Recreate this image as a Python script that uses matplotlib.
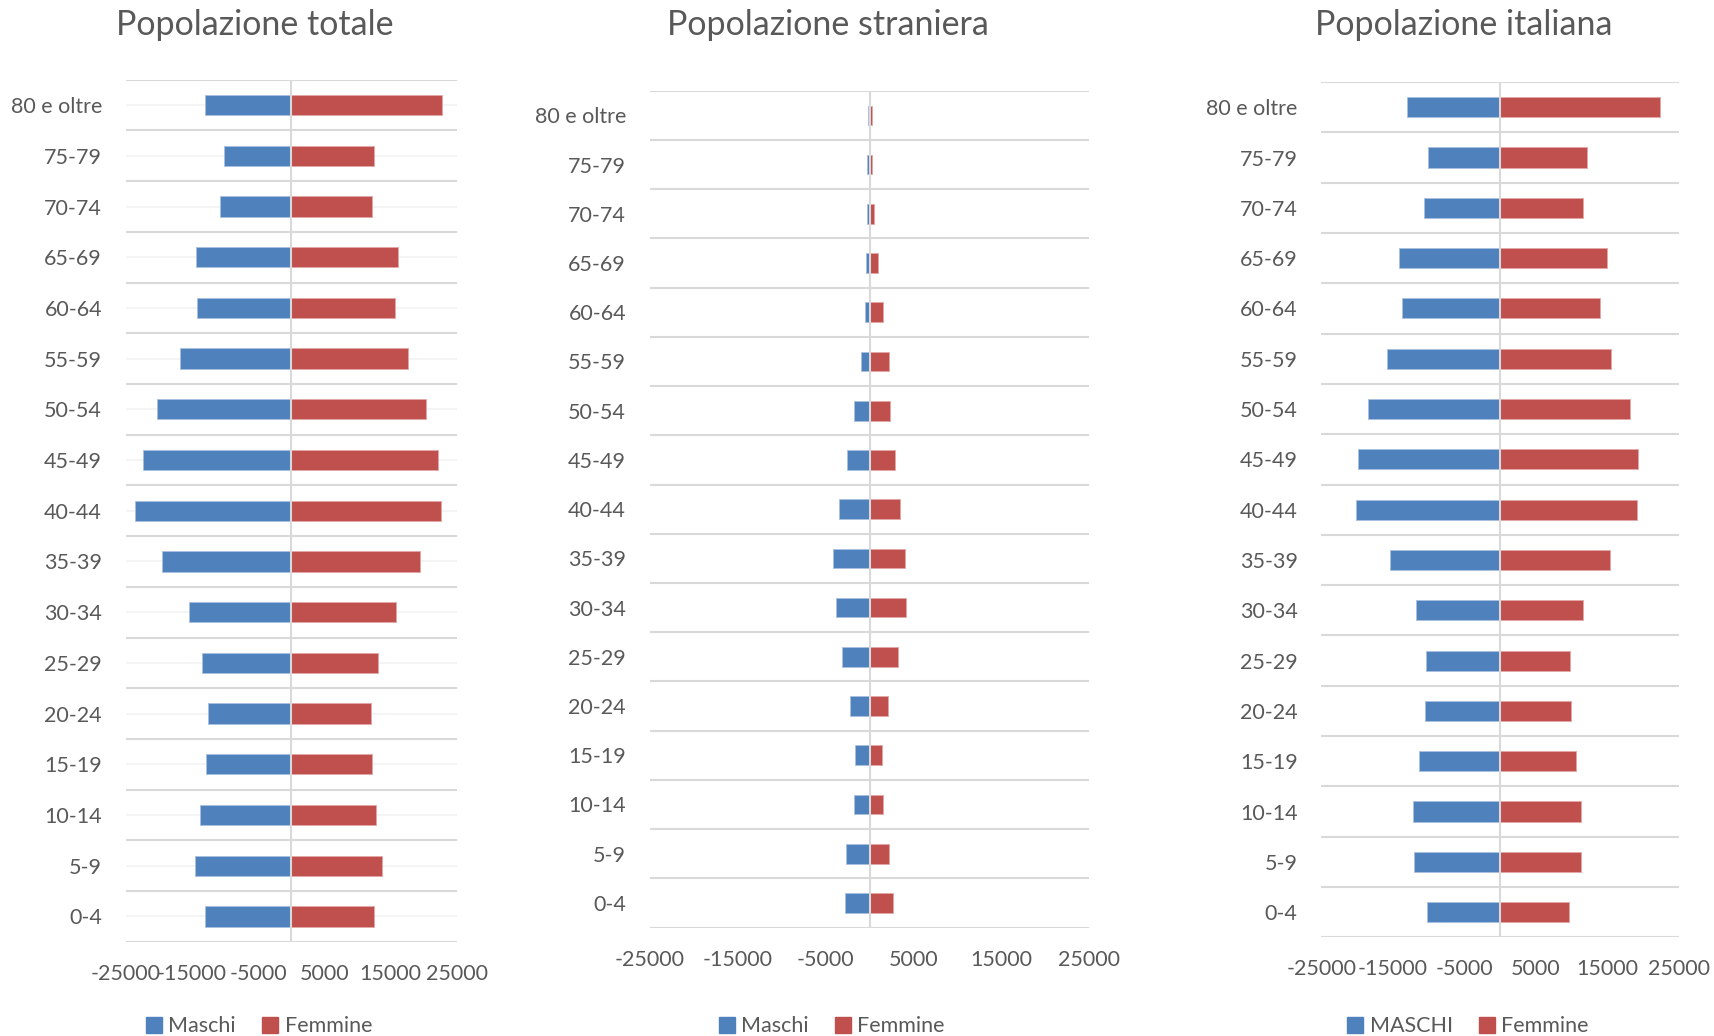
import numpy as np
import matplotlib
matplotlib.use('Agg')
import matplotlib.pyplot as plt
from matplotlib.patches import Rectangle

# classi di età, dal basso verso l'alto
categorie = ['0-4', '5-9', '10-14', '15-19', '20-24', '25-29', '30-34', '35-39',
             '40-44', '45-49', '50-54', '55-59', '60-64', '65-69', '70-74', '75-79',
             '80 e oltre']

totale_maschi = [13000, 14560, 13860, 12950, 12650, 13450, 15510, 19480,
                 23590, 22440, 20280, 16820, 14260, 14460, 10790, 10240, 13100]
totale_femmine = [12400, 13650, 12750, 12100, 11950, 13050, 15760, 19430,
                  22540, 22190, 20380, 17620, 15610, 16060, 12150, 12500, 22740]

stranieri_maschi = [2800, 2650, 1780, 1670, 2270, 3150, 3830, 4170,
                    3490, 2580, 1740, 985, 530, 380, 265, 230, 190]
stranieri_femmine = [2690, 2270, 1520, 1440, 2120, 3260, 4150, 4050,
                     3450, 2920, 2310, 2160, 1520, 985, 490, 340, 230]

italiani_maschi = [10220, 11980, 12100, 11270, 10430, 10330, 11680, 15320,
                   20110, 19920, 18530, 15870, 13740, 14160, 10650, 10080, 13070]
italiani_femmine = [9650, 11310, 11310, 10660, 9870, 9820, 11640, 15410,
                    19130, 19270, 18110, 15550, 14020, 15020, 11640, 12120, 22430]

tick_valori = [-25000, -15000, -5000, 5000, 15000, 25000]
tick_etichette = ['-25000', '-15000', '-5000', '5000', '15000', '25000']

BLU = '#4F81BD'
ROSSO = '#C0504D'
GRIGIO = '#595959'
GRIGLIA = '#D9D9D9'

plt.rcParams['font.family'] = ['Lato', 'DejaVu Sans']

fig = plt.figure(figsize=(17.15, 10.36), dpi=100)

pannelli = [
    # titolo, maschi, femmine, etichetta maschi, posizione assi, x titolo/legenda, griglia centrale
    ('Popolazione totale', totale_maschi, totale_femmine, 'Maschi',
     [0.0733, 0.0910, 0.1932, 0.8320], 0.1486, 0.151, True),
    ('Popolazione straniera', stranieri_maschi, stranieri_femmine, 'Maschi',
     [0.3788, 0.1047, 0.2564, 0.8077], 0.4828, 0.485, False),
    ('Popolazione italiana', italiani_maschi, italiani_femmine, 'MASCHI',
     [0.7704, 0.0953, 0.2085, 0.8255], 0.8533, 0.856, False),
]

y = np.arange(len(categorie))

for titolo, maschi, femmine, lab_m, pos, x_tit, x_leg, griglia_centro in pannelli:
    ax = fig.add_axes(pos)
    ax.barh(y, -np.array(maschi), height=0.4, color=BLU, edgecolor='#A9C0E0',
            linewidth=0.6, zorder=2)
    ax.barh(y, femmine, height=0.4, color=ROSSO, edgecolor='#E3A6A5',
            linewidth=0.6, zorder=2)
    ax.axvline(0, color=GRIGLIA, linewidth=1.5, zorder=3)

    ax.set_xlim(-25000, 25000)
    ax.set_ylim(-0.5, len(categorie) - 0.5)
    ax.set_yticks(y)
    ax.set_yticklabels(categorie)
    ax.set_yticks(np.arange(-0.5, len(categorie)), minor=True)
    ax.set_xticks(tick_valori)
    ax.set_xticklabels(tick_etichette)

    ax.grid(which='minor', axis='y', color=GRIGLIA, linewidth=1.5, zorder=0)
    if griglia_centro:
        ax.grid(which='major', axis='y', color='#F2F2F2', linewidth=1.2, zorder=0)
    ax.set_axisbelow(True)

    for s in ax.spines.values():
        s.set_visible(False)
    ax.tick_params(which='both', length=0, colors=GRIGIO, labelsize=15.5)
    ax.tick_params(axis='y', pad=17)
    ax.tick_params(axis='x', pad=16)

    fig.text(x_tit, 0.976, titolo, ha='center', va='center', fontsize=24.5,
             color=GRIGIO)

    maniglie = [Rectangle((0, 0), 1, 1, color=BLU), Rectangle((0, 0), 1, 1, color=ROSSO)]
    fig.legend(maniglie, [lab_m, 'Femmine'], loc='lower center',
               bbox_to_anchor=(x_leg, -0.019), ncol=2, frameon=False,
               fontsize=15.5, labelcolor=GRIGIO, handlelength=0.75,
               handleheight=0.75, handletextpad=0.3, columnspacing=1.2)

fig.savefig('out.png', dpi=100)
